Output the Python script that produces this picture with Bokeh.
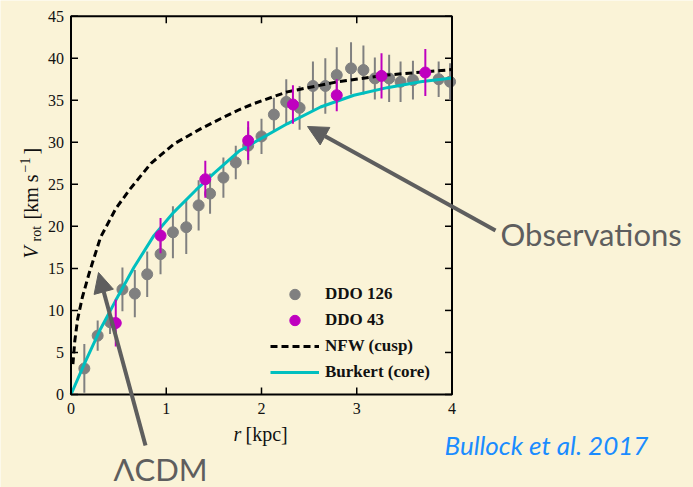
import numpy as np
from bokeh.plotting import figure
from bokeh.models import Range1d, Label, Arrow, NormalHead, Legend, LegendItem
from bokeh.embed import file_html
from bokeh.resources import INLINE

# ---- data ----
ddo126_r = [0.14, 0.28, 0.41, 0.54, 0.67, 0.80, 0.94, 1.07, 1.21, 1.34, 1.46, 1.60, 1.73, 1.86,
            2.00, 2.13, 2.26, 2.40, 2.54, 2.67, 2.79, 2.94, 3.07, 3.19, 3.34, 3.46, 3.59, 3.86, 3.98]
ddo126_v = [3.1, 7.0, 8.6, 12.5, 12.0, 14.3, 16.7, 19.3, 19.9, 22.5, 23.9, 25.8, 27.6, 29.6,
            30.7, 33.3, 34.8, 34.1, 36.7, 36.7, 38.0, 38.8, 38.6, 37.6, 37.6, 37.2, 37.4, 37.5, 37.2]
ddo126_e = [2.9, 1.8, 1.4, 2.6, 2.8, 2.7, 2.4, 3.1, 3.2, 3.0, 2.4, 2.4, 2.0, 2.2,
            2.1, 2.0, 2.7, 2.6, 2.9, 3.3, 3.3, 3.1, 2.9, 2.5, 2.8, 2.4, 2.3, 2.1, 2.2]

ddo43_r = [0.47, 0.94, 1.41, 1.86, 2.33, 2.79, 3.26, 3.72]
ddo43_v = [8.5, 18.9, 25.6, 30.2, 34.5, 35.6, 37.9, 38.3]
ddo43_e = [2.8, 2.1, 2.2, 2.3, 2.3, 1.9, 2.7, 2.8]

nfw_r = [0.02, 0.04, 0.07, 0.12, 0.19, 0.31, 0.47, 0.61, 0.84, 1.08, 1.36, 1.57, 1.77, 1.92,
         2.27, 2.80, 3.32, 4.0]
nfw_v = [3.6, 6.4, 9.0, 11.6, 14.4, 18.7, 22.1, 24.3, 27.5, 29.8, 31.6, 32.8, 33.9, 34.6,
         36.0, 37.2, 38.0, 38.65]

burk_r = [0.0, 0.14, 0.31, 0.47, 0.66, 0.87, 1.08, 1.31, 1.50, 1.77, 2.27, 2.62, 2.97, 3.32, 3.67, 4.0]
burk_v = [0.0, 3.65, 7.8, 11.2, 15.1, 18.9, 21.7, 24.3, 26.3, 29.0, 32.2, 34.2, 35.6, 36.5, 37.2, 37.65]

x_ticks = [0, 1, 2, 3, 4]
y_ticks = [0, 5, 10, 15, 20, 25, 30, 35, 40, 45]
x_tick_labels = ["0", "1", "2", "3", "4"]
y_tick_labels = ["0", "5", "10", "15", "20", "25", "30", "35", "40", "45"]

# ---- styling ----
BG = "#faf3d7"
GRAY = "#808080"
MAG = "#bf00bf"
CYAN = "#00bfbf"
ANN = "#5e5e5e"
INK = "#111111"

W, H = 693, 487
# placement of the axes box on the page (px)
BX0, BX1, BY0, BY1 = 70.5, 451.5, 15.7, 394.0
XS = (BX1 - BX0) / (x_ticks[-1] - x_ticks[0])
YS = (BY1 - BY0) / (y_ticks[-1] - y_ticks[0])
def dx(px): return x_ticks[0] + (px - BX0) / XS
def dy(py): return y_ticks[0] + (BY1 - py) / YS

# the frame spans the whole canvas so that annotations outside the axes box are not clipped
p = figure(width=W, height=H, output_backend="svg", toolbar_location=None,
           x_range=Range1d(dx(0), dx(W)), y_range=Range1d(dy(H), dy(0)),
           min_border=0)
p.background_fill_color = BG
p.border_fill_color = BG
p.outline_line_color = None
p.grid.visible = False
p.xaxis.visible = False
p.yaxis.visible = False

xt = np.array(x_ticks, dtype=float)
yt = np.array(y_ticks, dtype=float)
x_lo, x_hi, y_lo, y_hi = xt[0], xt[-1], yt[0], yt[-1]
TL = 7.0  # tick length, px (pointing inward)

# axes box + inward ticks on all four sides
p.segment(xt, y_lo, xt, y_lo + TL / YS, line_color="black", line_width=1.5)
p.segment(xt, y_hi, xt, y_hi - TL / YS, line_color="black", line_width=1.5)
p.segment(x_lo, yt, x_lo + TL / XS, yt, line_color="black", line_width=1.5)
p.segment(x_hi, yt, x_hi - TL / XS, yt, line_color="black", line_width=1.5)

# tick labels
p.text(x=xt, y=dy(402), text=x_tick_labels, text_align="center", text_baseline="top",
       text_font="Liberation Serif", text_font_size="16px", text_color=INK)
p.text(x=dx(63.5), y=yt, text=y_tick_labels, text_align="right", text_baseline="middle",
       text_font="Liberation Serif", text_font_size="16px", text_color=INK)

# ---- data marks ----
r126 = np.array(ddo126_r); v126 = np.array(ddo126_v); e126 = np.array(ddo126_e)
r43 = np.array(ddo43_r); v43 = np.array(ddo43_v); e43 = np.array(ddo43_e)

p.segment(r126, v126 - e126, r126, v126 + e126, line_color=GRAY, line_width=2)
g126 = p.scatter(r126, v126, size=11, fill_color=GRAY, line_color=GRAY)
l_nfw = p.line(nfw_r, nfw_v, line_color="black", line_width=3, line_dash="7 4")
l_bur = p.line(burk_r, burk_v, line_color=CYAN, line_width=3)
p.segment(r43, v43 - e43, r43, v43 + e43, line_color=MAG, line_width=2)
g43 = p.scatter(r43, v43, size=11, fill_color=MAG, line_color=MAG)

# frame of the axes box (drawn over the marks)
p.quad(left=[x_lo], right=[x_hi], bottom=[y_lo], top=[y_hi],
       fill_color=None, line_color="black", line_width=2)

legend = Legend(items=[LegendItem(label="DDO 126", renderers=[g126]),
                       LegendItem(label="DDO 43", renderers=[g43]),
                       LegendItem(label="NFW (cusp)", renderers=[l_nfw]),
                       LegendItem(label="Burkert (core)", renderers=[l_bur])],
                location=(270, H - 385), padding=0, margin=0, spacing=0,
                glyph_width=49, glyph_height=26, label_height=26, label_standoff=6,
                border_line_color=None, background_fill_alpha=0,
                label_text_font="Liberation Serif", label_text_font_style="bold",
                label_text_font_size="17px", label_text_color=INK)
p.add_layout(legend)

# baseline correction (fraction of font size) measured for each face
SHIFT = {"Liberation Serif": 0.25, "Lato": 0.42}

def lab(text, px, py, size, font="Liberation Serif", style="normal", color=INK,
        angle=0.0, align="left"):
    k = SHIFT[font] * size
    if angle:
        px = px - k
    else:
        py = py - k
    p.add_layout(Label(x=dx(px), y=dy(py), text=text, text_font=font,
                       text_font_size=f"{size}px", text_font_style=style, text_color=color,
                       angle=angle, text_align=align, text_baseline="alphabetic"))

# axis titles (built from pieces for sub/superscripts); (px, py) = baseline start
R = np.pi / 2
lab("V", 35, 258, 20, style="italic", angle=R)
lab("rot", 39, 241, 14, angle=R)
lab("[km s", 35, 219, 20, angle=R)
lab("\u22121", 28, 172, 14, angle=R)
lab("]", 35, 154, 20, angle=R)

lab("r", 233, 438, 20, style="italic")
lab("[kpc]", 245, 438, 20)

# annotations
lab("Observations", 500, 247, 31, font="Lato", color=ANN)
lab("\u039bCDM", 113, 481.5, 31, font="Lato", color=ANN)
lab("Bullock et al. 2017", 444, 455.7, 26, font="Lato", style="italic", color="#1a8cff")

p.add_layout(Arrow(x_start=dx(495), y_start=dy(230), x_end=dx(307), y_end=dy(126),
                   line_color=ANN, line_width=4,
                   end=NormalHead(size=20, fill_color=ANN, line_color=ANN)))
p.add_layout(Arrow(x_start=dx(145), y_start=dy(445), x_end=dx(98), y_end=dy(272),
                   line_color=ANN, line_width=4,
                   end=NormalHead(size=20, fill_color=ANN, line_color=ANN)))

open("out.html", "w").write(file_html(p, INLINE))
